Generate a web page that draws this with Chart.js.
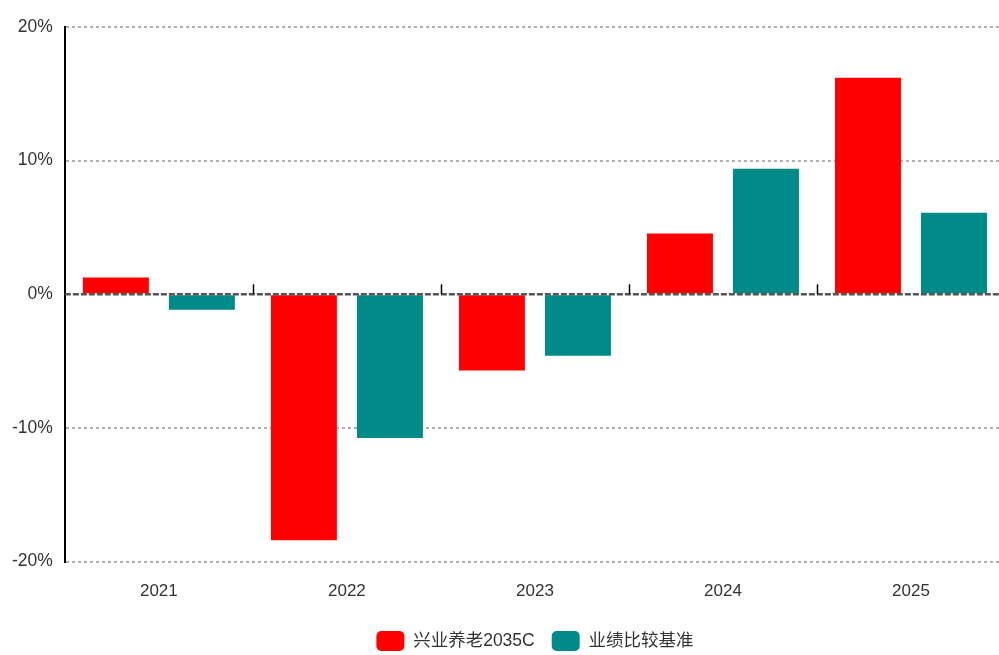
<!DOCTYPE html>
<html lang="zh-cn">
<head>
    <meta charset="UTF-8">
    <title>兴业养老2035C 与 业绩比较基准</title>
    <script src="https://cdn.jsdelivr.net/npm/chart.js"></script>
    <style>
        html, body {
            margin: 0;
            padding: 0;
            background: #fff;
            overflow: hidden;
        }
        .chart-box {
            width: 1005px;
            height: 655px;
        }
    </style>
</head>
<body>
    <div class="chart-box">
        <canvas id="barChart" width="1005" height="655"></canvas>
    </div>

    <script>
        // 数据
        const categories = ["2021", "2022", "2023", "2024", "2025"];
        const seriesNames = ["兴业养老2035C", "业绩比较基准"];
        const fundReturns = [1.25, -18.4, -5.7, 4.55, 16.2];
        const benchmarkReturns = [-1.15, -10.75, -4.6, 9.4, 6.1];
        const yTickValues = [-20, -10, 0, 10, 20];

        const fontFamily = "'Liberation Sans', Arial, 'Noto Sans CJK SC', sans-serif";

        // 0% 虚线和分类刻度
        const zeroLinePlugin = {
            id: "zeroLine",
            afterDatasetsDraw(chart) {
                const { ctx, chartArea, scales } = chart;
                const y0 = scales.y.getPixelForValue(0);
                ctx.save();
                ctx.strokeStyle = "#555";
                ctx.lineWidth = 2.5;
                ctx.setLineDash([6, 2]);
                ctx.beginPath();
                ctx.moveTo(chartArea.left, y0);
                ctx.lineTo(chartArea.right, y0);
                ctx.stroke();

                ctx.setLineDash([]);
                ctx.strokeStyle = "#000";
                ctx.lineWidth = 1.5;
                const step = (chartArea.right - chartArea.left) / categories.length;
                for (let i = 1; i < categories.length; i++) {
                    const x = Math.round(chartArea.left + step * i) + 0.5;
                    ctx.beginPath();
                    ctx.moveTo(x, y0);
                    ctx.lineTo(x, y0 - 10);
                    ctx.stroke();
                }
                ctx.restore();
            }
        };

        new Chart(document.getElementById("barChart"), {
            type: "bar",
            data: {
                labels: categories,
                datasets: [{
                    label: seriesNames[0],
                    data: fundReturns,
                    backgroundColor: "#ff0000",
                    borderWidth: 0
                }, {
                    label: seriesNames[1],
                    data: benchmarkReturns,
                    backgroundColor: "#008a88",
                    borderWidth: 0
                }]
            },
            options: {
                responsive: false,
                animation: false,
                datasets: {
                    bar: {
                        categoryPercentage: 0.915,
                        barPercentage: 0.767
                    }
                },
                layout: {
                    padding: { left: 0, top: 27, right: 0, bottom: -6 }
                },
                scales: {
                    x: {
                        grid: { display: false },
                        border: { display: false },
                        ticks: {
                            color: "#333",
                            padding: 12,
                            font: { family: fontFamily, size: 17 }
                        }
                    },
                    y: {
                        min: -20,
                        max: 20,
                        afterBuildTicks(axis) {
                            axis.ticks = yTickValues.map(v => ({ value: v }));
                        },
                        grid: {
                            drawTicks: false,
                            lineWidth: 2,
                            color: ctx => ctx.tick && ctx.tick.value === 0 ? "rgba(0,0,0,0)" : "#b0b0b0"
                        },
                        border: {
                            display: true,
                            color: "#000",
                            width: 2,
                            dash: [3, 3]
                        },
                        ticks: {
                            color: "#333",
                            padding: 12,
                            font: { family: fontFamily, size: 17.5 },
                            callback: v => v + "%"
                        }
                    }
                },
                plugins: {
                    tooltip: { enabled: false },
                    legend: {
                        position: "bottom",
                        fullSize: false,
                        labels: {
                            color: "#333",
                            boxWidth: 28,
                            boxHeight: 20,
                            useBorderRadius: true,
                            borderRadius: 5,
                            padding: 17,
                            font: { family: fontFamily, size: 17.5 }
                        }
                    }
                }
            },
            plugins: [zeroLinePlugin]
        });
    </script>
</body>
</html>
